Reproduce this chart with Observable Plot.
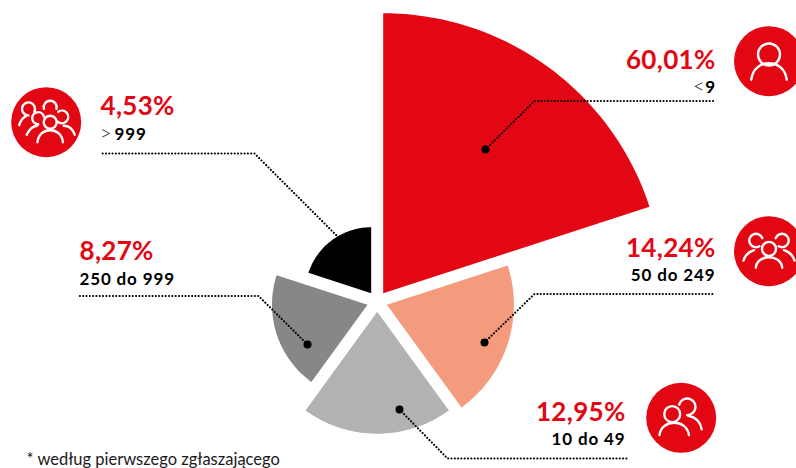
<!DOCTYPE html>
<html>
<head>
<meta charset="utf-8">
<script src="https://cdn.jsdelivr.net/npm/d3@7"></script>
<script src="https://cdn.jsdelivr.net/npm/@observablehq/plot@0.6"></script>
<style>
html,body{margin:0;padding:0;background:#fff;overflow:hidden}
svg{display:block}
g[font-size="17"]{letter-spacing:.85px}
g[font-size="26"]{letter-spacing:.3px}
</style>
</head>
<body>
<div id="chart"></div>
<script>
// Data
const categories = ["< 9", "50 do 249", "10 do 49", "250 do 999", "> 999"];
const shares = [60.01, 14.24, 12.95, 8.27, 4.53];
const wedgeLengths = [280, 127, 122, 95.5, 66];
const footnote = "* według pierwszego zgłaszającego";

// Layout (separate from data)
const RED = "#e30613";
const wedgeColors = [RED, "#f39b7c", "#b2b2b2", "#878787", "#000000"];
const centre = {x: 376.7, y: 301};
const explode = 10.2;
const step = 72;
const rad = a => (a - 90) * Math.PI / 180;
const polar = (o, r, a) => ({x: o.x + r * Math.cos(rad(a)), y: o.y + r * Math.sin(rad(a))});

function wedge(i) {
  const a0 = i * step, a1 = a0 + step;
  const apex = polar(centre, explode, a0 + step / 2);
  return [apex, ...d3.range(0, 49).map(k => polar(apex, wedgeLengths[i], a0 + (a1 - a0) * k / 48))];
}

const leaders = [
  [[485, 149], [534, 100.5], [715, 100.5]],
  [[484, 342], [534, 293.5], [715, 293.5]],
  [[399, 409], [447, 458], [628, 458]],
  [[307, 344], [258, 295.5], [79, 295.5]],
  [[345, 244], [254, 153], [100, 153]]
].map(pts => pts.map(([x, y]) => ({x, y})));

const labels = [
  {x: 715, y1: 68, y2: 92.7, anchor: "end"},
  {x: 715, y1: 256.7, y2: 280.7, anchor: "end"},
  {x: 625, y1: 420, y2: 444, anchor: "end"},
  {x: 79, y1: 259, y2: 284, anchor: "start"},
  {x: 100, y1: 114, y2: 139, anchor: "start"}
];

const pct = v => v.toFixed(2).replace(".", ",") + "%";

// Icon glyphs built from heads and shoulders
const deg = d => d * Math.PI / 180;
function head(c, x, y, r, a0 = 0, a1 = 360) {
  c.moveTo(x + r * Math.cos(deg(a0)), y + r * Math.sin(deg(a0)));
  c.arc(x, y, r, deg(a0), deg(a1));
}
function shoulders(c, x0, x1, y0, top) {
  const w = x1 - x0, ctrl = (top - 0.25 * y0) / 0.75;
  c.moveTo(x0, y0);
  c.bezierCurveTo(x0 + w * 0.06, ctrl, x1 - w * 0.06, ctrl, x1, y0);
}
function stroke(c, x0, y0, qx, qy, x1, y1) {
  c.moveTo(x0, y0);
  c.quadraticCurveTo(qx, qy, x1, y1);
}
const icons = [
  {x: 768.5, y: 60.7, draw(c) {
    head(c, 0, -6.7, 11);
    shoulders(c, -17.7, 17.7, 18.5, 2);
  }},
  {x: 768.5, y: 250.7, draw(c) {
    head(c, 0, -2.3, 7);
    shoulders(c, -13.2, 13.2, 16.5, 6);
    head(c, -13, -10.7, 6.7, 60, 340);
    head(c, 13, -10.7, 6.7, 200, 480);
    stroke(c, -25.5, 9.3, -23.5, 2, -15, -1);
    stroke(c, 25.5, 9.3, 23.5, 2, 15, -1);
  }},
  {x: 680.7, y: 417.3, draw(c) {
    head(c, -9, -3.7, 8);
    shoulders(c, -21.7, 7.7, 17.3, 5);
    head(c, 6, -11, 8.3, 195, 450);
    stroke(c, 7, -2, 18.5, 0, 20.5, 11.5);
  }},
  {x: 45.7, y: 121.7, draw(c) {
    head(c, 4, 0, 6.5);
    shoulders(c, -8.7, 16.7, 20, 8);
    head(c, -8, -4, 6, 90, 345);
    stroke(c, -19.5, 12.5, -15.5, 4, -9, 3.5);
    head(c, -17.7, -13.3, 6.5, 90, 385);
    stroke(c, -27, 3, -25, -4, -19.5, -6.5);
    head(c, 4, -15, 6.5, 165, 375);
    head(c, 15.7, -5.3, 6.3, 235, 490);
    stroke(c, 17.5, 3.5, 25.5, 3.5, 28.5, 12.5);
  }}
];

const font = "Lato, sans-serif";
const txt = {fontFamily: font, fontWeight: 700, stroke: null};

const marks = [];
// wedges
categories.forEach((_, i) => {
  marks.push(Plot.line(wedge(i), {x: "x", y: "y", fill: wedgeColors[i], stroke: "none", curve: "linear-closed"}));
});
// leaders
leaders.forEach(pts => {
  marks.push(Plot.line(pts, {x: "x", y: "y", stroke: "#000", strokeWidth: 2.2, strokeDasharray: "0 3.3", strokeLinecap: "round", curve: "linear"}));
  marks.push(Plot.dot([pts[0]], {x: "x", y: "y", r: 4, fill: "#000", stroke: "none"}));
});
// icons
icons.forEach(ic => {
  marks.push(Plot.dot([ic], {x: "x", y: "y", r: 35, fill: RED, stroke: "none"}));
  marks.push(Plot.dot([ic], {x: "x", y: "y", symbol: {draw: ic.draw}, fill: "none", stroke: "#fff", strokeWidth: 2.4, strokeLinecap: "round"}));
});
// percentage and size-class labels
labels.forEach((l, i) => {
  marks.push(Plot.text([shares[i]], {x: () => l.x, y: () => l.y1, text: pct, textAnchor: l.anchor, lineAnchor: "bottom", fontSize: 26, fill: RED, ...txt}));
  const cat = categories[i];
  const subStyle = {fontSize: 17, fill: "#000", ...txt};
  if (/^[<>]/.test(cat)) {
    const [sign, val] = cat.split(" ");
    const sx = i === 0 ? 704 : 99.5;
    const vx = i === 0 ? 715.5 : 114;
    marks.push(Plot.text([sign], {x: () => sx, y: () => l.y2, text: d => d, textAnchor: i === 0 ? "end" : "start", lineAnchor: "bottom", fontSize: 20, fill: "#111", fontFamily: font, fontWeight: 300}));
    marks.push(Plot.text([val], {x: () => vx, y: () => l.y2, text: d => d, textAnchor: l.anchor, lineAnchor: "bottom", ...subStyle}));
  } else {
    marks.push(Plot.text([cat], {x: () => l.x, y: () => l.y2, text: d => d, textAnchor: l.anchor, lineAnchor: "bottom", ...subStyle}));
  }
});
marks.push(Plot.text([footnote], {x: () => 26, y: () => 464, text: d => d, textAnchor: "start", lineAnchor: "bottom", fontSize: 16.5, fill: "#1a1a1a", fontFamily: font, fontWeight: 400, stroke: null}));

const plot = Plot.plot({
  width: 796, height: 468,
  margin: 0,
  x: {domain: [0, 796], range: [0, 796], axis: null},
  y: {domain: [0, 468], range: [0, 468], axis: null},
  style: {background: "#fff"},
  marks
});
document.getElementById("chart").append(plot);
</script>
</body>
</html>
